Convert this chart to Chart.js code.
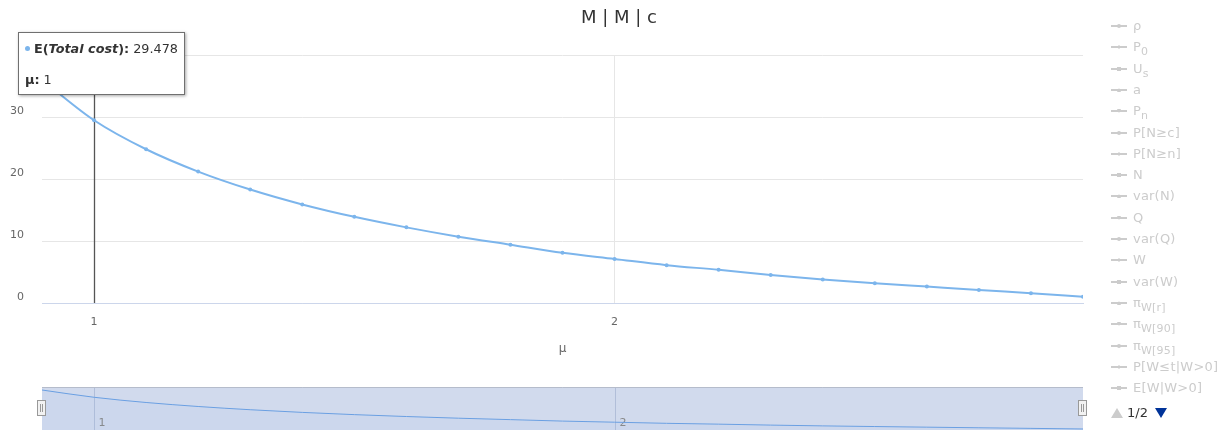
<!DOCTYPE html>
<html>
<head>
<meta charset="utf-8">
<script src="https://cdn.jsdelivr.net/npm/chart.js@4.4.1/dist/chart.umd.min.js"></script>
<style>
  body { margin: 0; background: #fff; font-family: "DejaVu Sans", sans-serif; }
  #wrap { position: relative; width: 1228px; height: 430px; overflow: hidden; }
  #main { position: absolute; left: 0; top: 0; }
  #nav { position: absolute; left: 0; top: 387px; }
  .item { position: absolute; left: 1111px; height: 16px; line-height: 16px; font-size: 13px; letter-spacing: 0.2px; color: #ccc; white-space: nowrap; }
  .item svg { position: absolute; left: 0; top: 0; }
  .item span { position: absolute; left: 22px; top: 0; }
  .item sub { font-size: 11px; vertical-align: -4px; line-height: 0; }
  #pager { position: absolute; left: 1111px; top: 405px; height: 16px; font-size: 13px; color: #333; line-height: 16px; }
  #pager svg { position: absolute; top: 2px; }
  #pager span { position: absolute; left: 16px; top: 0; }
  #tip { position: absolute; left: 18px; top: 32px; width: 167px; height: 63px; box-sizing: border-box;
         background: #fff; border: 1px solid #707070; box-shadow: 1px 1px 3px rgba(0,0,0,0.35);
         padding: 8px 0 0 6px; font-size: 12.8px; line-height: 15.5px; color: #333; white-space: nowrap; }
  #tip .dot { display: inline-block; width: 5px; height: 5px; border-radius: 50%; background: #7cb5ec; vertical-align: 2px; margin-right: 4px; }
</style>
</head>
<body>
<div id="wrap">
  <canvas id="main" width="1228" height="363"></canvas>
  <canvas id="nav" width="1228" height="43"></canvas>
  <div id="legend"></div>
  <div id="pager">
    <svg width="12" height="12" style="left:0"><polygon points="0,11 6,1 12,11" fill="#cccccc"/></svg>
    <span>1/2</span>
    <svg width="12" height="12" style="left:44px"><polygon points="0,1 12,1 6,11" fill="#003399"/></svg>
  </div>
  <div id="tip"></div>
</div>
<script>
// service rate and expected total cost
const mu = [0.9, 1.0, 1.1, 1.2, 1.3, 1.4, 1.5, 1.6, 1.7, 1.8, 1.9, 2.0, 2.1, 2.2, 2.3, 2.4, 2.5, 2.6, 2.7, 2.8, 2.9];
const totalCost = [36.0, 29.478, 24.8, 21.2, 18.3, 15.9, 13.9, 12.2, 10.7, 9.4, 8.1, 7.1, 6.1, 5.35, 4.5, 3.8, 3.2, 2.65, 2.1, 1.57, 1.02];
const xTicks = [1, 2];
const yTicks = [0, 10, 20, 30, 40];
const hoverMu = 1;
const chartTitle = "M | M | c";
const legendNames = ["ρ", "P<sub>0</sub>", "U<sub>s</sub>", "a", "P<sub>n</sub>", "P[N≥c]", "P[N≥n]", "N", "var(N)",
  "Q", "var(Q)", "W", "var(W)", "π<sub>W[r]</sub>", "π<sub>W[90]</sub>", "π<sub>W[95]</sub>", "P[W≤t|W&gt;0]", "E[W|W&gt;0]"];

const points = mu.map((m, i) => ({ x: m, y: totalCost[i] }));

// legend (all hidden series, greyed out)
const legend = document.getElementById("legend");
const markers = ["circle", "diamond", "square", "triangle", "triangle-down"];
legendNames.forEach((name, i) => {
  const div = document.createElement("div");
  div.className = "item";
  div.style.top = (18 + i * 21.3) + "px";
  let m = "";
  const shape = markers[i % 5];
  if (shape === "circle") m = '<circle cx="8" cy="8" r="2" fill="#ccc"/>';
  else if (shape === "diamond") m = '<polygon points="8,6 10,8 8,10 6,8" fill="#ccc"/>';
  else if (shape === "square") m = '<rect x="6" y="6" width="4" height="4" fill="#ccc"/>';
  else if (shape === "triangle") m = '<polygon points="8,6 10,10 6,10" fill="#ccc"/>';
  else m = '<polygon points="6,6 10,6 8,10" fill="#ccc"/>';
  div.innerHTML = '<svg width="16" height="16"><line x1="0" y1="8" x2="16" y2="8" stroke="#ccc" stroke-width="2"/>' + m + '</svg><span>' + name + '</span>';
  legend.appendChild(div);
});

// tooltip text
const hi = mu.indexOf(hoverMu);
document.getElementById("tip").innerHTML =
  '<span class="dot"></span><b>E(<i>Total cost</i>):</b> ' + totalCost[hi] + '<br><br><b>μ:</b> ' + mu[hi];

const crosshair = {
  id: "crosshair",
  beforeDatasetsDraw(chart) {
    const { ctx, chartArea, scales: { x } } = chart;
    const px = Math.round(x.getPixelForValue(hoverMu)) + 0.5;
    ctx.save();
    ctx.strokeStyle = "#555";
    ctx.lineWidth = 1.3;
    ctx.beginPath();
    ctx.moveTo(px, chartArea.top);
    ctx.lineTo(px, chartArea.bottom);
    ctx.stroke();
    ctx.restore();
  },
  afterDraw(chart) {
    // title centred on the whole chart width, legend included
    const ctx = chart.ctx;
    ctx.save();
    ctx.fillStyle = "#333";
    ctx.font = "18px 'DejaVu Sans'";
    ctx.textAlign = "center";
    ctx.textBaseline = "middle";
    ctx.fillText(chartTitle, chart.width / 2 + 5, 18);
    ctx.restore();
  }
};

new Chart(document.getElementById("main"), {
  type: "line",
  data: {
    datasets: [{
      label: "E(Total cost)",
      data: points,
      borderColor: "#7cb5ec",
      backgroundColor: "#7cb5ec",
      borderWidth: 2,
      pointRadius: 2,
      pointHoverRadius: 2,
      pointBorderWidth: 0,
      cubicInterpolationMode: "monotone"
    }]
  },
  options: {
    responsive: false,
    animation: false,
    events: [],
    layout: { padding: { top: 55, left: 0, right: 145, bottom: 0 } },
    plugins: {
      legend: { display: false },
      tooltip: { enabled: false },
      title: { display: false }
    },
    scales: {
      x: {
        type: "linear",
        min: mu[0],
        max: mu[mu.length - 1],
        afterBuildTicks: (s) => { s.ticks = xTicks.map(v => ({ value: v })); },
        afterFit: (s) => { s.height = 60; },
        grid: { color: "#e6e6e6", drawTicks: false },
        border: { color: "#ccd6eb" },
        ticks: { color: "#666", font: { family: "DejaVu Sans", size: 11 }, padding: 13 },
        title: { display: true, text: "μ", color: "#666", font: { family: "DejaVu Sans", size: 12 }, padding: { top: 4, bottom: 7 } }
      },
      y: {
        min: yTicks[0],
        max: yTicks[yTicks.length - 1],
        afterBuildTicks: (s) => { s.ticks = yTicks.map(v => ({ value: v })); },
        afterFit: (s) => { s.width = 42; },
        grid: { color: (c) => c.tick && c.tick.value === 0 ? "#ccd6eb" : "#e6e6e6", drawTicks: false },
        border: { display: false },
        ticks: {
          color: "#666",
          font: { family: "DejaVu Sans", size: 11 },
          padding: 18,
          labelOffset: -6,
          callback: (v) => v === 40 ? "" : v
        }
      }
    }
  },
  plugins: [crosshair]
});

// navigator
const navDecor = {
  id: "navDecor",
  beforeDatasetsDraw(chart) {
    const { ctx, chartArea: a, scales: { x } } = chart;
    ctx.save();
    ctx.fillStyle = "rgba(102,133,194,0.3)";
    ctx.fillRect(a.left, a.top, a.right - a.left, a.bottom - a.top);
    ctx.strokeStyle = "rgba(150,165,200,0.55)";
    ctx.lineWidth = 1;
    ctx.font = "11px 'DejaVu Sans'";
    ctx.fillStyle = "#888";
    ctx.textAlign = "left";
    ctx.textBaseline = "middle";
    xTicks.forEach(v => {
      const px = Math.round(x.getPixelForValue(v)) + 0.5;
      ctx.beginPath();
      ctx.moveTo(px, a.top);
      ctx.lineTo(px, a.bottom);
      ctx.stroke();
      ctx.fillText(String(v), px + 4, a.top + 36);
    });
    ctx.strokeStyle = "#b5bccb";
    ctx.beginPath();
    ctx.moveTo(a.left, a.top + 0.5);
    ctx.lineTo(a.right, a.top + 0.5);
    ctx.stroke();
    ctx.restore();
  },
  afterDraw(chart) {
    const { ctx, scales: { x } } = chart;
    ctx.save();
    [x.min, x.max].forEach(v => {
      const px = Math.round(x.getPixelForValue(v));
      ctx.fillStyle = "#f2f2f2";
      ctx.strokeStyle = "#999";
      ctx.lineWidth = 1;
      ctx.fillRect(px - 4.5, 13.5, 8, 15);
      ctx.strokeRect(px - 4.5, 13.5, 8, 15);
      ctx.beginPath();
      ctx.moveTo(px - 1.5, 17); ctx.lineTo(px - 1.5, 25);
      ctx.moveTo(px + 0.5, 17); ctx.lineTo(px + 0.5, 25);
      ctx.stroke();
    });
    ctx.restore();
  }
};

new Chart(document.getElementById("nav"), {
  type: "line",
  data: {
    datasets: [{
      data: points,
      borderColor: "#6a9fe2",
      borderWidth: 1,
      pointRadius: 0,
      fill: "origin",
      backgroundColor: "rgba(124,181,236,0.05)",
      cubicInterpolationMode: "monotone"
    }]
  },
  options: {
    responsive: false,
    animation: false,
    events: [],
    layout: { padding: { top: 0, left: 42, right: 145, bottom: 0 } },
    plugins: { legend: { display: false }, tooltip: { enabled: false } },
    scales: {
      x: { type: "linear", display: false, min: mu[0], max: mu[mu.length - 1] },
      y: { display: false, min: 0.1, max: 38.7 }
    }
  },
  plugins: [navDecor]
});
</script>
</body>
</html>
